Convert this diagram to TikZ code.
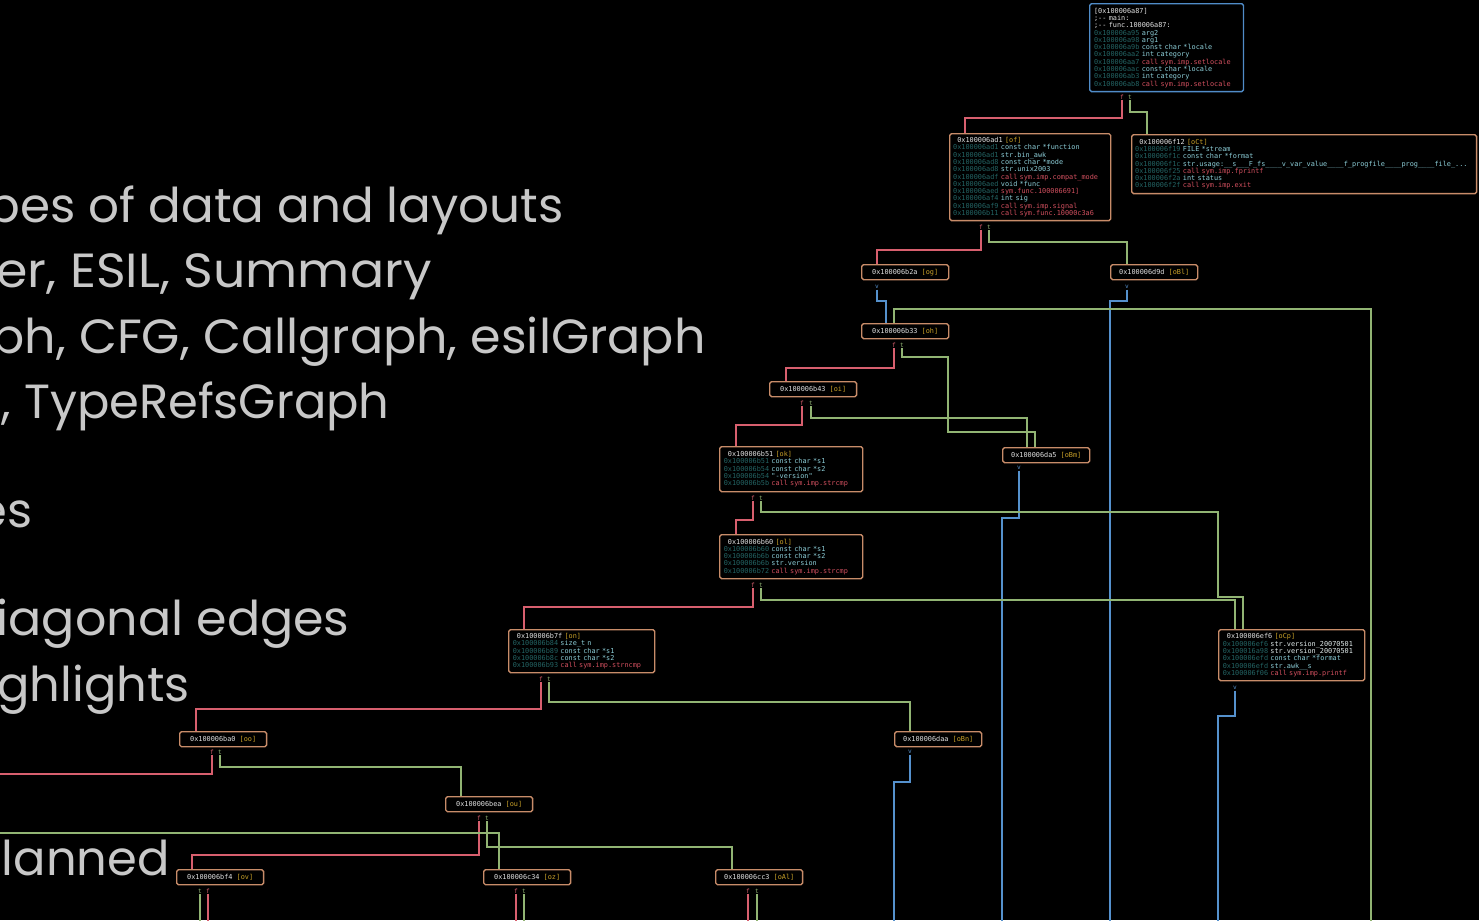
\documentclass[tikz,border=0pt]{standalone}
\usepackage{fontspec}
\usepackage{graphicx}
\setmainfont{Poppins}
\setmonofont{DejaVu Sans Mono}

\definecolor{boxc}{RGB}{200,140,105}
\definecolor{entryc}{RGB}{80,140,200}
\definecolor{addrc}{RGB}{35,100,100}
\definecolor{insc}{RGB}{140,205,215}
\definecolor{callc}{RGB}{210,80,95}
\definecolor{strc}{RGB}{225,235,235}
\definecolor{hdc}{RGB}{225,225,225}
\definecolor{tagc}{RGB}{200,160,40}
\definecolor{fcol}{RGB}{215,95,110}
\definecolor{tcol}{RGB}{145,180,115}
\definecolor{vcol}{RGB}{85,145,205}
\definecolor{slidec}{RGB}{200,200,200}

% one disassembly line: address + operand/comment
\newcommand{\oplin}[2]{\textcolor{addrc}{#1} \textcolor{insc}{#2}}
\newcommand{\calllin}[2]{\textcolor{addrc}{#1} \textcolor{callc}{#2}}
\newcommand{\strlin}[2]{\textcolor{addrc}{#1} \textcolor{strc}{#2}}
\newcommand{\blkhd}[2]{\textcolor{hdc}{#1} \textcolor{tagc}{[#2]}}
% slide line, stretched sideways
\newcommand{\slideline}[2]{\scalebox{#1}[1]{#2}}

\tikzset{
  blk/.style={draw=boxc, line width=0.8pt, fill=black, rounded corners=1pt,
    anchor=north west, inner xsep=2pt, inner ysep=2pt, align=left,
    font=\ttfamily\fontsize{3.9}{4.15}\selectfont},
  sblk/.style={blk, align=center, inner sep=0pt, minimum width=1.74cm,
    minimum height=0.3cm},
  lbl/.style={font=\ttfamily\fontsize{3.5}{3.6}\selectfont, inner sep=0.3pt},
  fe/.style={draw=fcol, line width=0.8pt},
  te/.style={draw=tcol, line width=0.8pt},
  ve/.style={draw=vcol, line width=0.8pt},
  slide/.style={anchor=base east, text=slidec, inner sep=0pt,
    font=\fontsize{27.3}{30}\selectfont},
}

\begin{document}
\begin{tikzpicture}[x=0.02cm, y=-0.02cm]
\useasboundingbox (0,0) rectangle (1479,920);
\fill[black] (0,0) rectangle (1479,920);
\clip (0,0) rectangle (1479,920);

% slide text
\node[slide] (s1) at (564,222) {\slideline{1.01}{pes of data and layouts}};
\node[slide] (s2) at (432,287) {\slideline{1.055}{er, ESIL, Summary}};
\node[slide] (s3) at (706,353) {\slideline{1.025}{ph, CFG, Callgraph, esilGraph}};
\node[slide] (s4) at (390,418) {\slideline{1.0}{, TypeRefsGraph}};
\node[slide] (s5) at (33,527) {\slideline{1.0}{es}};
\node[slide] (s6) at (350,635) {\slideline{1.025}{iagonal edges}};
\node[slide] (s7) at (190,701) {\slideline{1.0}{ghlights}};
\node[slide] (s8) at (170,875) {\slideline{1.0}{lanned}};

% basic blocks
\node[blk, draw=entryc, inner xsep=2.5pt, text width=2.9cm, minimum height=1.76cm] (a87) at (1089,3) {%
\textcolor{hdc}{[0x100006a87]}\\
\textcolor{hdc}{;-- main:}\\
\textcolor{hdc}{;-- func.100006a87:}\\
\oplin{0x100006a95}{arg2}\\
\oplin{0x100006a98}{arg1}\\
\oplin{0x100006a9b}{const char *locale}\\
\oplin{0x100006aa2}{int category}\\
\calllin{0x100006aa7}{call sym.imp.setlocale}\\
\oplin{0x100006aac}{const char *locale}\\
\oplin{0x100006ab3}{int category}\\
\calllin{0x100006ab8}{call sym.imp.setlocale}};

\node[blk, text width=3.08cm, minimum height=1.74cm] (ad1) at (949,133) {%
\phantom{0}\blkhd{0x100006ad1}{of}\\
\oplin{0x100006ad1}{const char *function}\\
\oplin{0x100006ad1}{str.bin\_awk}\\
\oplin{0x100006ad8}{const char *mode}\\
\oplin{0x100006ad8}{str.unix2003}\\
\calllin{0x100006adf}{call sym.imp.compat\_mode}\\
\oplin{0x100006aed}{void *func}\\
\calllin{0x100006aed}{sym.func.100006691]}\\
\oplin{0x100006af4}{int sig}\\
\calllin{0x100006af9}{call sym.imp.signal}\\
\calllin{0x100006b11}{call sym.func.10000c3a6}};

\node[blk, text width=6.76cm, minimum height=1.18cm] (f12) at (1131,134) {%
\phantom{0}\blkhd{0x100006f12}{oCt}\\
\oplin{0x100006f19}{FILE *stream}\\
\oplin{0x100006f1c}{const char *format}\\
\oplin{0x100006f1c}{str.usage:\_\_s\_\_\_F\_fs\_\_\_\_v\_var\_value\_\_\_\_f\_progfile\_\_\_\_prog\_\_\_\_file\_...}\\
\calllin{0x100006f25}{call sym.imp.fprintf}\\
\oplin{0x100006f2a}{int status}\\
\calllin{0x100006f2f}{call sym.imp.exit}};

\node[sblk] (b2a) at (861,264) {\blkhd{0x100006b2a}{og}};
\node[sblk] (d9d) at (1110,264) {\blkhd{0x100006d9d}{oBl}};
\node[sblk] (b33) at (861,323) {\blkhd{0x100006b33}{oh}};
\node[sblk] (b43) at (769,381) {\blkhd{0x100006b43}{oi}};
\node[sblk] (da5) at (1002,447) {\blkhd{0x100006da5}{oBm}};

\node[blk, inner xsep=2.3pt, text width=2.7cm, minimum height=0.9cm] (b51) at (719,446) {%
\phantom{0}\blkhd{0x100006b51}{ok}\\
\oplin{0x100006b51}{const char *s1}\\
\oplin{0x100006b54}{const char *s2}\\
\oplin{0x100006b54}{"-version"}\\
\calllin{0x100006b5b}{call sym.imp.strcmp}};

\node[blk, inner xsep=2.3pt, text width=2.7cm, minimum height=0.88cm] (b60) at (719,534) {%
\phantom{0}\blkhd{0x100006b60}{ol}\\
\oplin{0x100006b60}{const char *s1}\\
\oplin{0x100006b6b}{const char *s2}\\
\oplin{0x100006b6b}{str.version}\\
\calllin{0x100006b72}{call sym.imp.strcmp}};

\node[blk, inner xsep=2.3pt, text width=2.76cm, minimum height=0.86cm] (b7f) at (508,629) {%
\phantom{0}\blkhd{0x100006b7f}{on}\\
\oplin{0x100006b84}{size\_t n}\\
\oplin{0x100006b89}{const char *s1}\\
\oplin{0x100006b8c}{const char *s2}\\
\calllin{0x100006b93}{call sym.imp.strncmp}};

\node[blk, inner xsep=2.3pt, text width=2.76cm, minimum height=1.02cm] (ef6) at (1218,629) {%
\phantom{0}\blkhd{0x100006ef6}{oCp}\\
\strlin{0x100006ef6}{str.version\_20070501}\\
\strlin{0x100016a98}{str.version\_20070501}\\
\oplin{0x100006efd}{const char *format}\\
\oplin{0x100006efd}{str.awk\_\_s}\\
\calllin{0x100006f06}{call sym.imp.printf}};

\node[sblk] (ba0) at (179,731) {\blkhd{0x100006ba0}{oo}};
\node[sblk] (daa) at (894,731) {\blkhd{0x100006daa}{oBn}};
\node[sblk] (bea) at (445,796) {\blkhd{0x100006bea}{ou}};
\node[sblk] (bf4) at (176,869) {\blkhd{0x100006bf4}{ov}};
\node[sblk] (c34) at (483,869) {\blkhd{0x100006c34}{oz}};
\node[sblk] (cc3) at (715,869) {\blkhd{0x100006cc3}{oAl}};

% branch markers under the blocks
\foreach \n/\x/\y/\c/\l in {a87f/1122/97/fcol/f, a87t/1130/97/tcol/t,
    ad1f/981/227/fcol/f, ad1t/989/227/tcol/t,
    b2av/877/287/vcol/v, d9dv/1127/287/vcol/v,
    b33f/894/345/fcol/f, b33t/902/345/tcol/t,
    b43f/802/403/fcol/f, b43t/811/403/tcol/t,
    da5v/1019/468/vcol/v,
    b51f/753/498/fcol/f, b51t/761/498/tcol/t,
    b60f/753/585/fcol/f, b60t/761/585/tcol/t,
    b7ff/541/679/fcol/f, b7ft/549/679/tcol/t,
    ef6v/1235/688/vcol/v,
    ba0f/212/752/fcol/f, ba0t/220/752/tcol/t,
    daav/910/752/vcol/v,
    beaf/479/818/fcol/f, beat/487/818/tcol/t,
    bf4t/200/891/tcol/t, bf4f/208/891/fcol/f,
    c34f/516/891/fcol/f, c34t/524/891/tcol/t,
    cc3f/748/891/fcol/f, cc3t/757/891/tcol/t}
  \node[lbl, text=\c] (\n) at (\x,\y) {\l};

\coordinate (out1) at (1110,925);
\coordinate (out2) at (1002,925);
\coordinate (out3) at (1218,925);
\coordinate (out4) at (894,925);
\coordinate (out5) at (-5,774);
\coordinate (in1) at (1371,925);
\coordinate (in2) at (-5,833);

% edges
\draw[fe] (a87f.south) |- (965,118) -- (965,118 |- ad1.north);
\draw[te] (a87t.south) |- (1147,112) -- (1147,112 |- f12.north);
\draw[fe] (ad1f.south) |- (877,250) -- (877,250 |- b2a.north);
\draw[te] (ad1t.south) |- (1127,242) -- (1127,242 |- d9d.north);
\draw[ve] (b2av.south) |- (886,301) -- (886,301 |- b33.north);
\draw[ve] (d9dv.south) |- (1110,301) -- (out1);
\draw[te] (in1) |- (894,309) -- (894,309 |- b33.north);
\draw[fe] (b33f.south) |- (786,368) -- (786,368 |- b43.north);
\draw[te] (b33t.south) |- (948,357) |- (1035,432) -- (1035,432 |- da5.north);
\draw[fe] (b43f.south) |- (736,425) -- (736,425 |- b51.north);
\draw[te] (b43t.south) |- (1027,418) -- (1027,418 |- da5.north);
\draw[ve] (da5v.south) |- (1002,518) -- (out2);
\draw[fe] (b51f.south) |- (736,520) -- (736,520 |- b60.north);
\draw[te] (b51t.south) |- (1218,512) |- (1243,597) -- (1243,597 |- ef6.north);
\draw[fe] (b60f.south) |- (524,607) -- (524,607 |- b7f.north);
\draw[te] (b60t.south) |- (1235,600) -- (1235,600 |- ef6.north);
\draw[ve] (ef6v.south) |- (1218,716) -- (out3);
\draw[fe] (b7ff.south) |- (196,709) -- (196,709 |- ba0.north);
\draw[te] (b7ft.south) |- (910,702) -- (910,702 |- daa.north);
\draw[ve] (daav.south) |- (894,782) -- (out4);
\draw[fe] (ba0f.south) |- (out5);
\draw[te] (ba0t.south) |- (461,767) -- (461,767 |- bea.north);
\draw[fe] (beaf.south) |- (192,855) -- (192,855 |- bf4.north);
\draw[te] (beat.south) |- (732,847) -- (732,847 |- cc3.north);
\draw[te] (in2) -| (499,833 |- c34.north);
\foreach \p/\s in {bf4t/te, bf4f/fe, c34f/fe, c34t/te, cc3f/fe, cc3t/te}
  \draw[\s] (\p.south) -- (\p.south |- out1);
\end{tikzpicture}
\end{document}
